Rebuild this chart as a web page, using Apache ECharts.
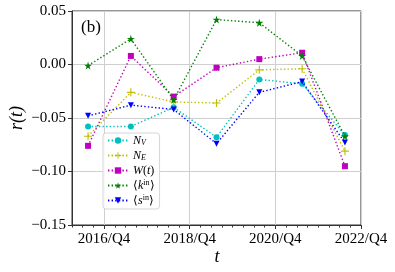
<!DOCTYPE html>
<html>
<head>
<meta charset="utf-8">
<script src="https://cdn.jsdelivr.net/npm/echarts@6/dist/echarts.min.js"></script>
<style>html,body{margin:0;padding:0;background:#fff}#c{width:395px;height:272px}</style>
</head>
<body>
<div id="c"></div>
<script>
// x positions in quarters since 2016/Q1 (each point is one year apart)
const quarterPos = [1.5, 5.5, 9.5, 13.5, 17.5, 21.5, 25.5];
// tick positions (quarters since 2016/Q1) and their labels
const tickPos = [3, 11, 19, 27];
const tickLabels = ['2016/Q4', '2018/Q4', '2020/Q4', '2022/Q4'];
const yTicks = [-0.15, -0.10, -0.05, 0.00, 0.05];

const seriesNames = ['N_V', 'N_E', 'W(t)', '<k^in>', '<s^in>'];
const N_V  = [-0.058, -0.058, -0.040, -0.068, -0.014, -0.018, -0.066];
const N_E  = [-0.067, -0.026, -0.035, -0.036, -0.005, -0.004, -0.081];
const W_t  = [-0.076,  0.008, -0.030, -0.003,  0.005,  0.011, -0.095];
const K_in = [-0.001,  0.024, -0.033,  0.042,  0.039,  0.008, -0.067];
const S_in = [-0.048, -0.038, -0.042, -0.074, -0.026, -0.016, -0.073];

const colors = ['#00bfbf', '#bfbf00', '#bf00bf', '#008000', '#0000ff'];
const STAR = 'path://M50,0 L61,35 L98,35 L68,57 L79,91 L50,70 L21,91 L32,57 L2,35 L39,35 Z';
const PLUS = 'path://M4.3,0 H5.7 V4.3 H10 V5.7 H5.7 V10 H4.3 V5.7 H0 V4.3 H4.3 Z';
const symbols = ['circle', PLUS, 'rect', STAR, 'triangle'];
const symSizes = [6, 8, 6, 8, 6];
const rotates = [0, 0, 0, 0, 180];
const values = [N_V, N_E, W_t, K_in, S_in];

const FONT = 'Liberation Serif';
const legendFmt = {
  'N_V': '{i|N}{sub|V}',
  'N_E': '{i|N}{sub|E}',
  'W(t)': '{i|W}{n|(}{i|t}{n|)}',
  '<k^in>': '{n|⟨}{i|k}{sup|in}{n|⟩}',
  '<s^in>': '{n|⟨}{i|s}{sup|in}{n|⟩}'
};

const series = seriesNames.map((name, si) => ({
  name: name,
  type: 'line',
  xAxisIndex: 0,
  data: quarterPos.map((q, i) => [q, values[si][i]]),
  symbol: symbols[si],
  symbolSize: symSizes[si],
  symbolRotate: rotates[si],
  showAllSymbol: true,
  lineStyle: { color: colors[si], width: 1.4, type: [1.4, 2.2], cap: 'butt' },
  itemStyle: { color: colors[si] },
  emphasis: { disabled: true },
  animation: false,
  z: 2 + si
}));

const chart = echarts.init(document.getElementById('c'), null, { renderer: 'canvas' });
chart.setOption({
  animation: false,
  backgroundColor: '#fff',
  grid: { left: 72, right: 34, top: 11, bottom: 47, show: true, borderColor: '#333', borderWidth: 1, backgroundColor: 'transparent' },
  xAxis: [{
    type: 'value', min: 0, max: 27, interval: 1,
    axisLine: { show: true, onZero: false, lineStyle: { color: '#333', width: 1 } },
    axisTick: { show: true, length: 4, inside: false, customValues: tickPos, lineStyle: { color: '#333' } },
    axisLabel: { customValues: tickPos, formatter: v => tickLabels[tickPos.indexOf(Math.round(v))] || '', fontFamily: FONT, fontSize: 15, color: '#000', margin: 7 },
    splitLine: { show: true, lineStyle: { color: '#cfcfcf', width: 1 } }
  }, {
    type: 'value', min: 0, max: 27, interval: 1, position: 'bottom',
    axisLine: { show: false, onZero: false },
    axisTick: { show: true, length: 2.5, lineStyle: { color: '#333' } },
    axisLabel: { show: false },
    splitLine: { show: false }
  }],
  yAxis: {
    type: 'value', min: yTicks[0], max: yTicks[yTicks.length - 1], interval: 0.05,
    axisLine: { show: true, onZero: false, lineStyle: { color: '#333', width: 1 } },
    axisTick: { show: true, length: 4, lineStyle: { color: '#333' } },
    axisLabel: { formatter: v => (v < -1e-9 ? '\u2212' : '') + Math.abs(v).toFixed(2), fontFamily: FONT, fontSize: 15, color: '#000', margin: 6 },
    splitLine: { show: true, lineStyle: { color: '#cfcfcf', width: 1 } }
  },
  legend: {
    orient: 'vertical', left: 103, top: 133,
    data: seriesNames,
    itemWidth: 20, itemHeight: 8, itemGap: 2,
    padding: [1, 5, 2, 4],
    backgroundColor: 'rgba(255,255,255,0.85)',
    borderColor: '#d5d5d5', borderWidth: 1, borderRadius: 3,
    selectedMode: false,
    formatter: name => legendFmt[name],
    textStyle: {
      fontFamily: FONT, fontSize: 12, color: '#000', lineHeight: 13,
      rich: {
        i: { fontFamily: FONT, fontStyle: 'italic', fontSize: 12, lineHeight: 13 },
        n: { fontFamily: FONT, fontSize: 12, lineHeight: 13 },
        sub: { fontFamily: FONT, fontStyle: 'italic', fontSize: 8, lineHeight: 8, verticalAlign: 'bottom', padding: [5, 0, 0, 0] },
        sup: { fontFamily: FONT, fontSize: 8, lineHeight: 8, verticalAlign: 'top', padding: [0, 0, 5, 0] }
      }
    }
  },
  graphic: [
    { type: 'text', left: 81, top: 19, style: { text: '(b)', font: '17px "Liberation Serif"', fill: '#000' }, z: 100 },
    { type: 'text', x: 17, y: 118, rotation: Math.PI / 2, style: { text: 'r(t)', font: 'italic 18px "Liberation Serif"', fill: '#000', textAlign: 'center', textVerticalAlign: 'middle' } },
    { type: 'text', x: 217, y: 257, style: { text: 't', font: 'italic 18px "Liberation Serif"', fill: '#000', textAlign: 'center', textVerticalAlign: 'middle' } }
  ],
  series: series
});
</script>
</body>
</html>
